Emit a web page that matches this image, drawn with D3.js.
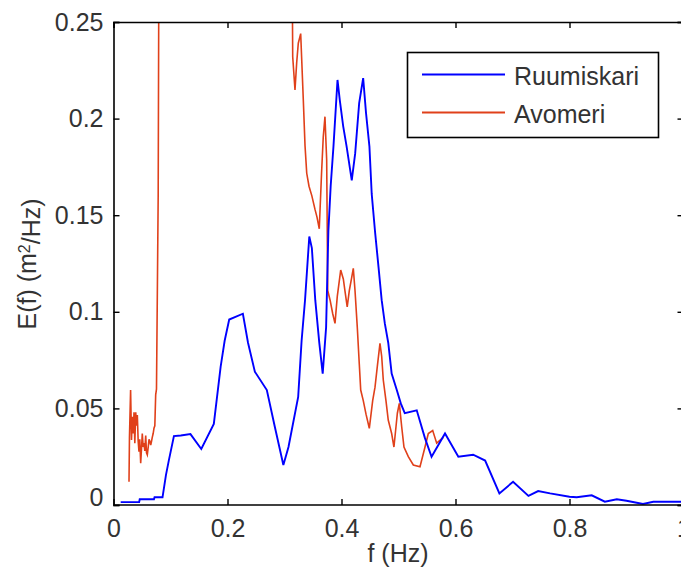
<!DOCTYPE html>
<html><head><meta charset="utf-8">
<script src="https://cdn.jsdelivr.net/npm/d3@7"></script>
<style>
html,body{margin:0;padding:0;background:#fff;}
svg{display:block;font-family:"Liberation Sans",Arial,sans-serif;}
</style></head>
<body>
<svg id="c" width="681" height="576"></svg>
<script>
const seriesNames = ["Ruumiskari", "Avomeri"];
const seriesColors = ["#0000ff", "#e0401a"];
const xTicks = [0, 0.2, 0.4, 0.6, 0.8, 1];
const yTicks = [0, 0.05, 0.1, 0.15, 0.2, 0.25];
const xLabel = "f (Hz)";

const ruumiskariF = [0.0126,0.045,0.046,0.071,0.072,0.086,0.092,0.097,0.106,0.118,0.135,0.154,0.176,0.188,0.195,0.203,0.227,0.236,0.248,0.269,0.283,0.298,0.307,0.324,0.330,0.336,0.3435,0.348,0.354,0.361,0.367,0.373,0.377,0.381,0.386,0.393,0.397,0.403,0.409,0.418,0.424,0.431,0.438,0.443,0.449,0.453,0.459,0.465,0.4705,0.476,0.482,0.488,0.497,0.504,0.511,0.532,0.546,0.558,0.5816,0.605,0.631,0.652,0.677,0.701,0.728,0.745,0.766,0.800,0.8126,0.839,0.862,0.883,0.900,0.929,0.947,1.0];
const ruumiskariE = [0.0015,0.0015,0.003,0.003,0.004,0.004,0.0155,0.023,0.0357,0.036,0.0367,0.029,0.042,0.0716,0.085,0.096,0.099,0.084,0.069,0.0595,0.0405,0.0207,0.030,0.056,0.085,0.106,0.139,0.133,0.106,0.084,0.068,0.092,0.142,0.165,0.186,0.220,0.2096,0.196,0.1855,0.168,0.182,0.208,0.221,0.203,0.1855,0.161,0.141,0.123,0.106,0.094,0.084,0.068,0.0595,0.0526,0.0475,0.049,0.035,0.025,0.037,0.025,0.026,0.023,0.006,0.012,0.0047,0.0072,0.006,0.0043,0.004,0.005,0.0017,0.003,0.0022,0.0005,0.0017,0.0017];

const avomeriF = [0.0272,0.028,0.030,0.0316,0.033,0.0346,0.036,0.0374,0.039,0.0404,0.0418,0.0433,0.0447,0.0461,0.0477,0.0491,0.0505,0.0521,0.0535,0.0549,0.0565,0.0579,0.0593,0.0609,0.0623,0.0637,0.0653,0.0667,0.068,0.0696,0.071,0.0725,0.074,0.0754,0.0768,0.0784,0.0798,0.09,0.12,0.20,0.28,0.313,0.3144,0.3184,0.3214,0.3242,0.3284,0.330,0.333,0.336,0.339,0.343,0.348,0.3535,0.357,0.361,0.365,0.368,0.371,0.374,0.3758,0.380,0.3846,0.3886,0.3926,0.3986,0.4032,0.406,0.410,0.4137,0.418,0.4207,0.4237,0.4277,0.4312,0.4337,0.4382,0.443,0.4488,0.4547,0.4588,0.4628,0.4675,0.4705,0.4733,0.478,0.482,0.488,0.492,0.4956,0.498,0.5014,0.5056,0.5096,0.5172,0.526,0.5377,0.5465,0.5523,0.560,0.567,0.5786];
const avomeriE = [0.012,0.035,0.0595,0.0336,0.0457,0.037,0.048,0.032,0.048,0.041,0.0466,0.033,0.0276,0.034,0.0216,0.029,0.037,0.030,0.032,0.028,0.036,0.027,0.026,0.030,0.034,0.033,0.031,0.033,0.035,0.037,0.0397,0.041,0.057,0.060,0.106,0.160,0.30,0.60,1.10,0.80,0.40,0.30,0.232,0.2148,0.229,0.239,0.244,0.232,0.2096,0.186,0.1717,0.165,0.160,0.153,0.149,0.143,0.1717,0.1906,0.201,0.1786,0.111,0.106,0.099,0.094,0.108,0.1216,0.117,0.111,0.1026,0.111,0.118,0.1225,0.111,0.092,0.073,0.0595,0.054,0.047,0.0397,0.054,0.061,0.0716,0.0837,0.077,0.0647,0.054,0.044,0.037,0.030,0.0405,0.0475,0.0526,0.0405,0.030,0.025,0.0207,0.0198,0.030,0.037,0.0385,0.032,0.035];

const W = 681, H = 576;
const m = {left: 113.5, top: 22, right: 683.5, bottom: 505};
const svg = d3.select("#c");
const x = d3.scaleLinear().domain([0, 1]).range([m.left, m.right]);
const y = d3.scaleLinear().domain([0, 0.25]).range([m.bottom, m.top]);
const FS = 25;
const TXT = "#333";

svg.append("defs").append("clipPath").attr("id", "clip")
  .append("rect").attr("x", m.left).attr("y", m.top)
  .attr("width", m.right - m.left).attr("height", m.bottom - m.top);

// data lines
const line = d3.line().x(d => x(d[0])).y(d => y(d[1]));
const data = [
  d3.zip(ruumiskariF, ruumiskariE),
  d3.zip(avomeriF, avomeriE)
];
const g = svg.append("g").attr("clip-path", "url(#clip)");
g.append("path").datum(data[1]).attr("d", line).attr("fill", "none")
  .attr("stroke", seriesColors[1]).attr("stroke-width", 1.6);
g.append("path").datum(data[0]).attr("d", line).attr("fill", "none")
  .attr("stroke", seriesColors[0]).attr("stroke-width", 1.9);

// axes (box with inward ticks)
const axB = d3.axisBottom(x).tickValues(xTicks).tickSize(-6).tickPadding(14)
  .tickFormat(d => d3.format("")(d));
const axT = d3.axisTop(x).tickValues(xTicks).tickSize(-6).tickFormat("");
const axL = d3.axisLeft(y).tickValues(yTicks).tickSize(-6).tickPadding(10)
  .tickFormat(d => d3.format("")(d));
const axR = d3.axisRight(y).tickValues(yTicks).tickSize(-6).tickFormat("");

function style(sel) {
  sel.selectAll(".domain").attr("stroke", "#000").attr("stroke-width", 1.6);
  sel.selectAll(".tick line").attr("stroke", "#000").attr("stroke-width", 1.4);
  sel.selectAll("text").attr("fill", TXT).style("font-size", FS + "px")
    .style("font-family", '"Liberation Sans", Arial, sans-serif');
}
const gB = svg.append("g").attr("transform", `translate(0,${m.bottom})`).call(axB).call(style);
svg.append("g").attr("transform", `translate(0,${m.top})`).call(axT).call(style);
const gL = svg.append("g").attr("transform", `translate(${m.left},0)`).call(axL).call(style);
svg.append("g").attr("transform", `translate(${m.right},0)`).call(axR).call(style);
gB.selectAll(".domain").attr("d", `M${m.left},0H${m.right}`);
gL.selectAll(".tick text").attr("dy", d => d === 0 ? "0" : "0.32em");

// axis labels
svg.append("text").attr("x", 398).attr("y", 562).attr("text-anchor", "middle")
  .attr("fill", TXT).style("font-size", FS + "px").text(xLabel);
const yl = svg.append("text").attr("transform", "translate(36,264) rotate(-90)")
  .attr("text-anchor", "middle").attr("fill", TXT).style("font-size", FS + "px");
yl.append("tspan").text("E(f) (m");
yl.append("tspan").attr("dy", "-0.4em").style("font-size", "16px").text("2");
yl.append("tspan").attr("dy", "0.4em").text("/Hz)");

// legend
const lg = svg.append("g");
lg.append("rect").attr("x", 407.5).attr("y", 52.5).attr("width", 251).attr("height", 85)
  .attr("fill", "#fff").attr("stroke", "#000").attr("stroke-width", 1.6);
const ly = [74.5, 112.5];
seriesNames.forEach((n, i) => {
  lg.append("line").attr("x1", 422).attr("x2", 505).attr("y1", ly[i]).attr("y2", ly[i])
    .attr("stroke", seriesColors[i]).attr("stroke-width", 1.8);
  lg.append("text").attr("x", 514).attr("y", ly[i] + 10).attr("fill", TXT)
    .style("font-size", FS + "px").text(n);
});
</script>
</body></html>
